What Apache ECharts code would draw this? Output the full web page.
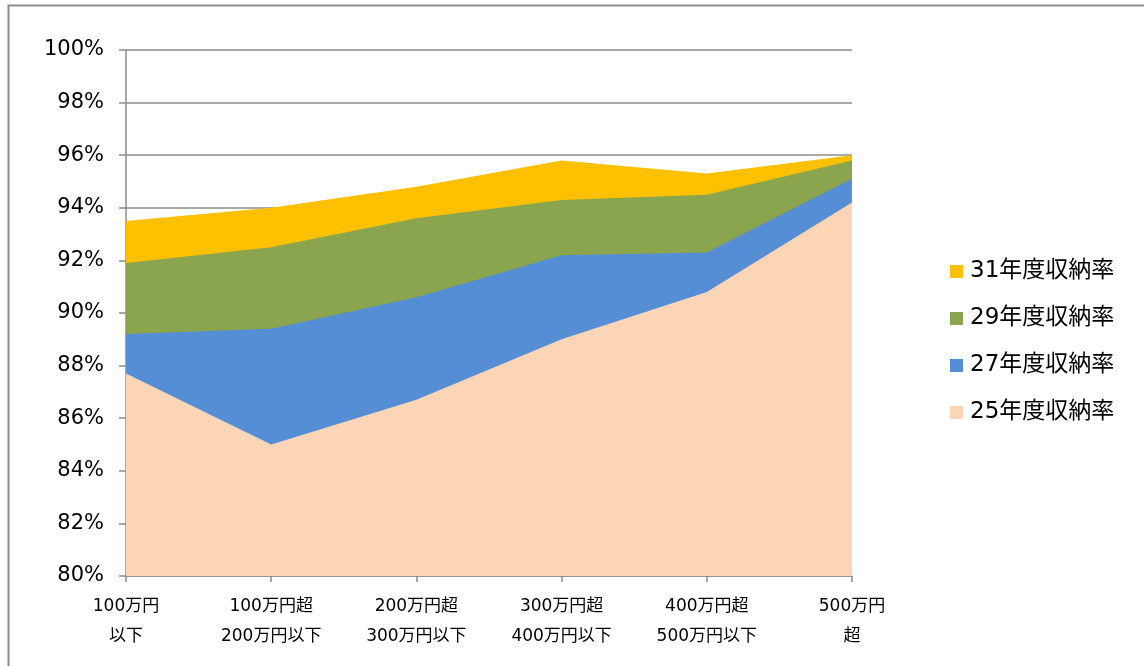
<!DOCTYPE html>
<html>
<head>
<meta charset="utf-8">
<script src="https://cdn.jsdelivr.net/npm/echarts@6/dist/echarts.min.js"></script>
<style>
  html, body { margin: 0; padding: 0; background: #fff; }
  #chart { width: 1144px; height: 666px; }
</style>
</head>
<body>
<div id="chart"></div>
<script>
// 所得階層別の収納率（各年度）
const categories = [
  '100万円\n以下',
  '100万円超\n200万円以下',
  '200万円超\n300万円以下',
  '300万円超\n400万円以下',
  '400万円超\n500万円以下',
  '500万円\n超'
];
const seriesNames = ['31年度収納率', '29年度収納率', '27年度収納率', '25年度収納率'];
const rate31 = [93.5, 94.0, 94.8, 95.8, 95.3, 96.0];
const rate29 = [91.9, 92.5, 93.6, 94.3, 94.5, 95.8];
const rate27 = [89.2, 89.4, 90.6, 92.2, 92.3, 95.1];
const rate25 = [87.7, 85.0, 86.7, 89.0, 90.8, 94.2];
const seriesColors = ['#FFC000', '#8BA54E', '#558ED5', '#FBD5B5'];

const FONT = '"DejaVu Sans", "Noto Sans CJK JP", sans-serif';
const values = [rate31, rate29, rate27, rate25];

const chart = echarts.init(document.getElementById('chart'), null, { renderer: 'canvas' });

chart.setOption({
  backgroundColor: '#ffffff',
  animation: false,
  graphic: [
    {
      type: 'polyline',
      shape: { points: [[8.5, 666], [8.5, 5.5], [1144, 5.5]] },
      style: { stroke: '#8c8c8c', lineWidth: 2, fill: null },
      silent: true
    }
  ],
  grid: { left: 126, right: 292, top: 50, bottom: 90, containLabel: false },
  legend: {
    orient: 'vertical',
    left: 945,
    top: 255,
    itemWidth: 13,
    itemHeight: 13,
    itemGap: 24,
    icon: 'rect',
    data: seriesNames,
    textStyle: { fontFamily: FONT, fontSize: 23, color: '#000', lineHeight: 22, padding: [0, 0, 0, 2] }
  },
  xAxis: {
    type: 'category',
    data: categories,
    boundaryGap: false,
    axisLine: { lineStyle: { color: '#8c8c8c', width: 1.5 } },
    axisTick: { alignWithLabel: true, length: 6, lineStyle: { color: '#8c8c8c', width: 1.5 } },
    axisLabel: {
      interval: 0,
      margin: 16,
      fontFamily: FONT,
      fontSize: 17,
      lineHeight: 30,
      color: '#000'
    },
    splitLine: { show: false }
  },
  yAxis: {
    type: 'value',
    min: 80,
    max: 100,
    interval: 2,
    axisLine: { show: true, lineStyle: { color: '#8c8c8c', width: 1.5 } },
    axisTick: { show: true, length: 7, lineStyle: { color: '#8c8c8c', width: 1.5 } },
    axisLabel: {
      margin: 22,
      fontFamily: FONT,
      fontSize: 21,
      color: '#000',
      formatter: v => v + '%'
    },
    splitLine: { show: true, lineStyle: { color: '#8c8c8c', width: 1.5 } }
  },
  series: seriesNames.map((name, i) => ({
    name: name,
    type: 'line',
    data: values[i],
    symbol: 'none',
    color: seriesColors[i],
    lineStyle: { width: 0 },
    areaStyle: { color: seriesColors[i], opacity: 1, origin: 'start' }
  }))
});
</script>
</body>
</html>
